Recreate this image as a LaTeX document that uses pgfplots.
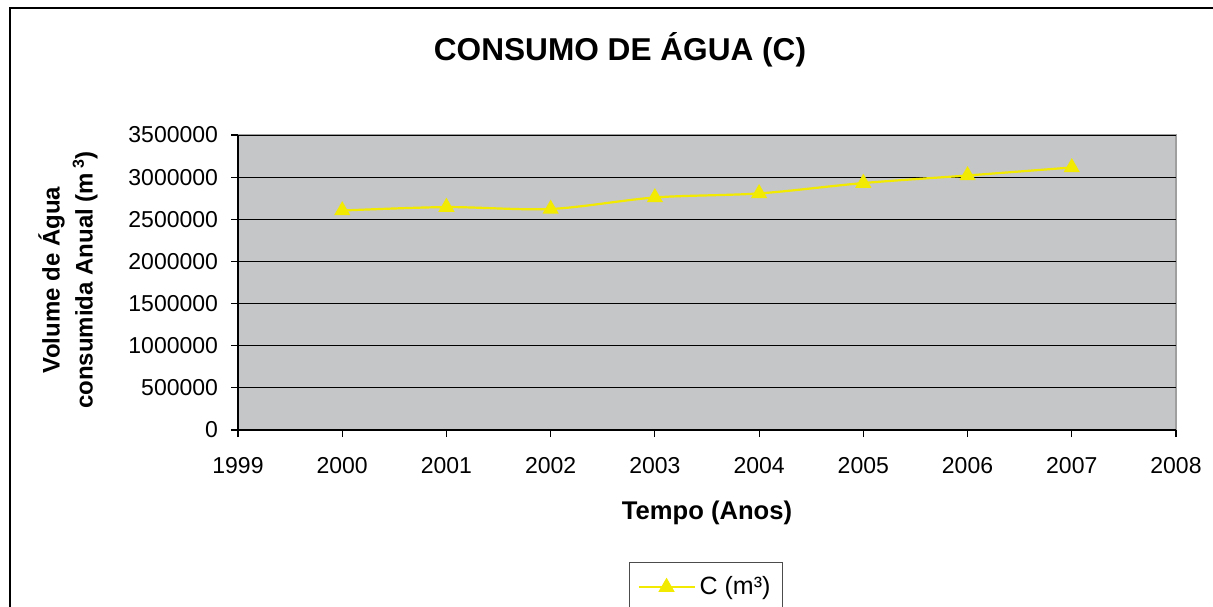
\documentclass[border=0pt]{standalone}
\usepackage{fontspec}
\setmainfont{Liberation Sans}
\usepackage{pgfplots}
\pgfplotsset{compat=1.18}
\definecolor{plotgray}{RGB}{197,198,200}
\definecolor{cyellow}{RGB}{242,234,0}
\begin{document}
\begin{tikzpicture}
\useasboundingbox (0,0) rectangle (606.5pt,303pt);
\draw[line width=1pt] (5pt,-10pt) rectangle (620pt,299pt);
\node[font=\fontsize{15.8}{18}\selectfont\bfseries] at (310pt,278pt) {CONSUMO DE ÁGUA (C)};
\begin{axis}[
    at={(119pt,88pt)}, anchor=south west,
    scale only axis, width=469pt, height=147.5pt,
    xmin=1999, xmax=2008, ymin=0, ymax=3500000,
    xtick={1999,2000,...,2008},
    ytick={0,500000,1000000,1500000,2000000,2500000,3000000,3500000},
    scaled y ticks=false,
    axis x line*=bottom, axis y line*=left,
    axis line style={-, black, line width=0.8pt},
    axis background/.style={fill=plotgray, draw=gray!75, line width=0.8pt},
    ymajorgrids, major grid style={black, line width=0.5pt},
    tick align=outside, major tick length=3.5pt,
    tick style={black, line width=0.6pt},
    ticklabel style={font=\fontsize{11.5}{13}\selectfont},
    /pgf/number format/assume math mode=true,
    xticklabel style={/pgf/number format/1000 sep={}, yshift=-6.5pt},
    yticklabel style={/pgf/number format/fixed, /pgf/number format/1000 sep={}, xshift=-3pt},
    xlabel={Tempo (Anos)},
    xlabel style={font=\fontsize{12.8}{14}\selectfont\bfseries, at={(axis description cs:0.5,-0.281)}, anchor=center},
    legend style={at={(axis description cs:0.4168,-0.4475)}, anchor=north west,
        draw=black!70, line width=0.5pt, inner ysep=5pt, inner xsep=4pt,
        font=\fontsize{12.5}{14}\selectfont},
    legend image code/.code={\draw[mark repeat=2,mark phase=2] plot coordinates {(0pt,0pt)(14pt,0pt)(28pt,0pt)};},
]
\addplot[cyellow, line width=1.1pt, smooth, mark=triangle*, mark size=3.6pt, mark options={fill=cyellow, draw=cyellow}]
coordinates {
    (2000,2604000) (2001,2645000) (2002,2622000) (2003,2759000)
    (2004,2807000) (2005,2930000) (2006,3020000) (2007,3115000)
};
\addlegendentry{C (m³)}
\end{axis}
\node[rotate=90, align=center, font=\fontsize{12}{16.5}\selectfont\bfseries] at (34pt,163pt)
    {Volume de Água\\consumida Anual (m\,\textsuperscript{3})};
\end{tikzpicture}
\end{document}
